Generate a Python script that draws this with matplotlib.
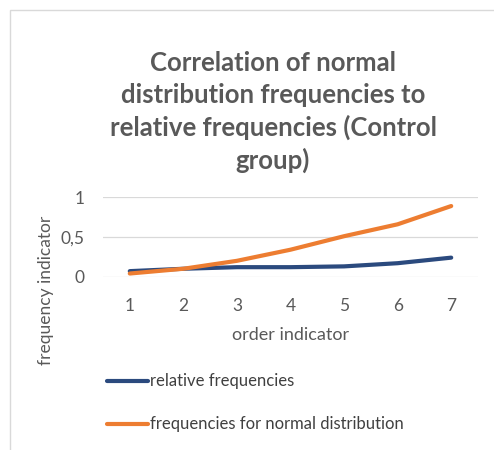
import matplotlib
matplotlib.use("Agg")
import matplotlib.pyplot as plt
from matplotlib.lines import Line2D
from matplotlib.patches import Rectangle

# data
order = [1, 2, 3, 4, 5, 6, 7]
relative_freq = [0.07, 0.10, 0.12, 0.12, 0.13, 0.17, 0.24]
normal_freq = [0.04, 0.10, 0.20, 0.34, 0.51, 0.66, 0.89]
y_ticks = [0, 0.5, 1]
y_tick_labels = ["0", "0,5", "1"]
series_names = ["relative frequencies", "frequencies for normal distribution"]

blue = "#2B4A7E"
orange = "#ED7D31"
text_gray = "#595959"

plt.rcParams["font.family"] = ["Lato", "DejaVu Sans"]

fig = plt.figure(figsize=(4.94, 4.5), dpi=100)

# chart border (only top & left visible in the crop)
fig.patches.append(Rectangle((10 / 494, -0.1), 1.2, 1 - 10 / 450 + 0.1,
                             transform=fig.transFigure, fill=False,
                             ec="#D9D9D9", lw=1))

ax = fig.add_axes([103 / 494, 1 - 276.7 / 450, 375 / 494, 79.4 / 450])
ax.plot(order, relative_freq, color=blue, lw=3, solid_capstyle="round")
ax.plot(order, normal_freq, color=orange, lw=3, solid_capstyle="round")

ax.set_xlim(0.5, 7.5)
ax.set_ylim(0, 1)
ax.set_xticks(order)
ax.set_yticks(y_ticks)
ax.set_yticklabels(y_tick_labels)
ax.grid(axis="y", color="#D9D9D9", lw=0.9)
ax.set_axisbelow(True)
for s in ax.spines.values():
    s.set_visible(False)
ax.tick_params(length=0, colors=text_gray, labelsize=12.5)
ax.tick_params(axis="x", pad=15)
ax.tick_params(axis="y", pad=13)

fig.text(291 / 494, 1 - 335 / 450, "order indicator", ha="center", va="center",
         fontsize=13, color=text_gray)
fig.text(46 / 494, 1 - 290 / 450, "frequency indicator", ha="center", va="center",
         rotation=90, fontsize=12.5, color=text_gray)

fig.text(273 / 494, 1 - 112 / 450,
         "Correlation of normal\ndistribution frequencies to\nrelative frequencies (Control\ngroup)",
         ha="center", va="center", fontsize=18.5, fontweight="bold",
         color=text_gray, linespacing=1.36)

# legend drawn by hand to mimic the stacked Excel legend
for name, color, ypix in [(series_names[0], blue, 381), (series_names[1], orange, 424)]:
    yf = 1 - ypix / 450
    fig.lines.append(Line2D([107 / 494, 148 / 494], [yf, yf], color=color, lw=3,
                            transform=fig.transFigure, solid_capstyle="round"))
    fig.text(150 / 494, yf, name, ha="left", va="center", fontsize=12,
             color="#404040")

fig.savefig("out.png", dpi=100)
